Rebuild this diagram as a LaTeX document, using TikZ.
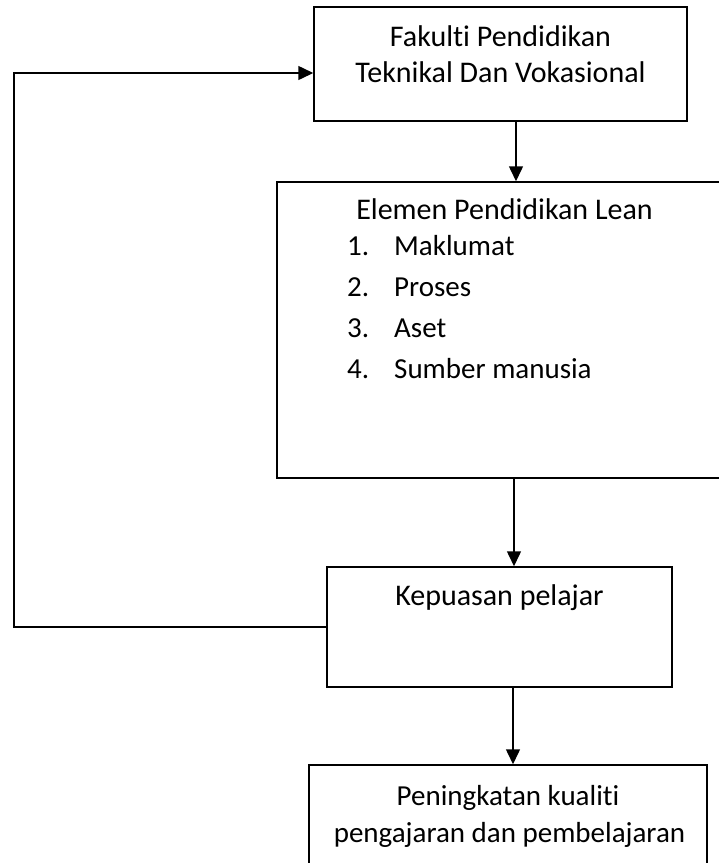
\documentclass[tikz,border=0pt]{standalone}
\usepackage{fontspec}
\setmainfont[Ligatures=NoCommon]{Carlito}
\usetikzlibrary{arrows.meta}
\tikzset{
  box/.style={draw=black, line width=1.5pt, rectangle, inner sep=0pt},
  lbl/.style={inner sep=0pt, anchor=base, font=\fontsize{30}{36}\selectfont},
  lblw/.style={inner sep=0pt, anchor=base west, font=\fontsize{29}{35}\selectfont},
  lbls/.style={inner sep=0pt, anchor=base, font=\fontsize{29}{35}\selectfont},
  conn/.style={draw=black, line width=1.5pt, -{Triangle[length=15pt,width=14pt]}},
}
\begin{document}
\begin{tikzpicture}[x=1pt,y=-1pt]
\useasboundingbox (0,0) rectangle (719,863);
\clip (0,0) rectangle (719,863);
% boxes
\node[box, minimum width=373pt, minimum height=114pt] (b1) at (500.5,64) {};
\node[box, minimum width=463pt, minimum height=296pt] (b2) at (508.5,330) {};
\node[box, minimum width=345pt, minimum height=120pt] (b3) at (499.5,627) {};
\node[box, minimum width=398pt, minimum height=130pt] (b4) at (508,830) {};
% texts
\node[lbl] (t1a) at (500.5,46) {Fakulti Pendidikan};
\node[lbl] (t1b) at (500.5,82) {Teknikal Dan Vokasional};
\node[lbl] (t2) at (504.5,219) {Elemen Pendidikan Lean};
\node[lblw] (n1) at (347,255) {1.};
\node[lblw] (i1) at (394,255) {Maklumat};
\node[lblw] (n2) at (347,296) {2.};
\node[lblw] (i2) at (394,296) {Proses};
\node[lblw] (n3) at (347,337) {3.};
\node[lblw] (i3) at (394,337) {Aset};
\node[lblw] (n4) at (347,378) {4.};
\node[lblw] (i4) at (394,378) {Sumber manusia};
\node[lbl] (t3) at (499.5,605) {Kepuasan pelajar};
\node[lbls] (t4a) at (508,805) {Peningkatan kualiti};
\node[lbls] (t4b) at (509.5,842) {pengajaran dan pembelajaran};
% connector guides
\coordinate (x1) at (516,0);
\coordinate (x2) at (514,0);
\coordinate (x3) at (513,0);
\coordinate (fbtop) at (14,73);
% connectors
\draw[conn] (b1.south -| x1) -- (b2.north -| x1);
\draw[conn] (b2.south -| x2) -- (b3.north -| x2);
\draw[conn] (b3.south -| x3) -- (b4.north -| x3);
\draw[conn] (b3.west) -| (fbtop) -- (b1.west |- fbtop);
\end{tikzpicture}
\end{document}
